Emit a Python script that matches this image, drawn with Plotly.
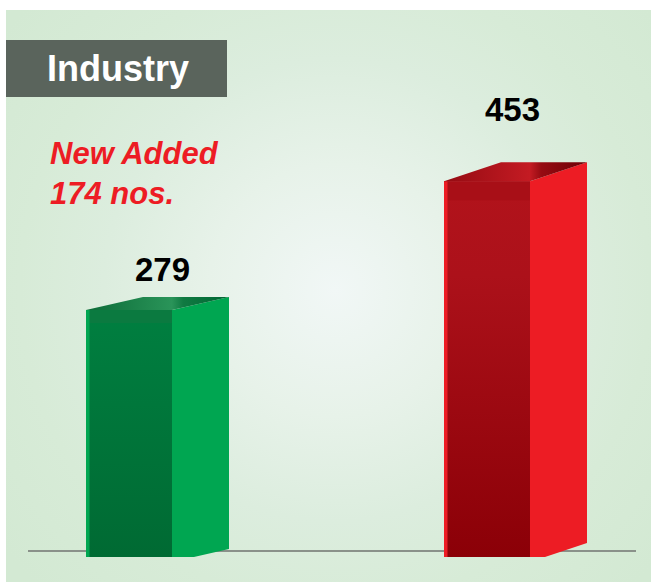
import base64
import plotly.graph_objects as go

# ---------------- data ----------------
categories = ["Before", "After"]
values = [279, 453]
value_labels = ["279", "453"]
title_text = "Industry"
note_lines = ["New Added", "174 nos."]

# ---------------- styles / geometry ----------------
W, H = 651, 582
FONT = "Liberation Sans, Arial, Helvetica, sans-serif"

X_STEP_PX = 358.0      # pixels between category centres
X_FIRST_PX = 129.0     # pixel x of first category centre
Y_PX = 0.741           # pixels per value unit
Y_ZERO_PX = 516.8      # pixel y of value 0

FRONT_W_PX = 86.0
DEPTH_DX_PX = 57.0
DEPTH_DY_PX = [13.0, 19.0]
CLIP_PX = 557.0
BOTTOM_PX = 562.0
STRIP_PX = 3.5
LABEL_RISE_PX = [28, 53]
LABEL_SHIFT_PX = [5, -3]

side_colors = ["#00a651", "#ed1c24"]
strip_colors = ["#00a651", "#ed1c24"]
front_scales = [
    [[0, "#006a33"], [1, "#007f40"]],
    [[0, "#8b0007"], [0.75, "#ac111a"], [1, "#b2131b"]],
]
band_colors = ["#0b7a40", "#a80f17"]
top_scales = [
    [[0, "#0b6b37"], [0.6, "#2a9459"], [0.68, "#107a42"], [1, "#006733"]],
    [[0, "#940b12"], [0.6, "#c41b23"], [0.68, "#960b12"], [1, "#6c0005"]],
]

X0 = -X_FIRST_PX / X_STEP_PX
X1 = X0 + W / X_STEP_PX
Y_TOP = Y_ZERO_PX / Y_PX
Y_BOT = (Y_ZERO_PX - H) / Y_PX

half = FRONT_W_PX / 2 / X_STEP_PX
DX = DEPTH_DX_PX / X_STEP_PX
CLIP = (Y_ZERO_PX - CLIP_PX) / Y_PX
BOT = (Y_ZERO_PX - BOTTOM_PX) / Y_PX
STRIP = STRIP_PX / X_STEP_PX

fig = go.Figure()


def poly(xs, ys, **kw):
    fig.add_trace(go.Scatter(
        x=xs + [xs[0]], y=ys + [ys[0]], mode="lines", fill="toself",
        line=dict(width=0), hoverinfo="skip", showlegend=False, **kw))


for i, v in enumerate(values):
    xl, xr = i - half, i + half
    dy = DEPTH_DY_PX[i] / Y_PX
    # side face (clipped at the bottom)
    xc = xr + DX * (CLIP - BOT) / dy
    poly([xr, xr, xr + DX, xr + DX, xc], [CLIP, v, v + dy, BOT + dy, CLIP],
         fillcolor=side_colors[i])
    # front face
    poly([xl, xr, xr, xl], [CLIP, CLIP, v, v],
         fillgradient=dict(type="vertical", colorscale=front_scales[i],
                           start=CLIP, stop=v))
    # top band on front face
    poly([xl, xr, xr, xl], [v - dy, v - dy, v, v], fillcolor=band_colors[i])
    # left light edge
    poly([xl, xl + STRIP, xl + STRIP, xl], [CLIP, CLIP, v, v],
         fillcolor=strip_colors[i])
    # top face
    poly([xl, xr, xr + DX, xl + DX], [v, v, v + dy, v + dy],
         fillgradient=dict(type="horizontal", colorscale=top_scales[i],
                           start=xl, stop=xr + DX))
    # value label
    fig.add_annotation(x=i + DX / 2, y=v + dy, yshift=LABEL_RISE_PX[i],
                       xshift=LABEL_SHIFT_PX[i],
                       text="<b>" + value_labels[i] + "</b>", showarrow=False,
                       xanchor="center", yanchor="middle",
                       font=dict(family=FONT, size=33, color="#000000"))

# background radial gradient
svg = (
    '<svg xmlns="http://www.w3.org/2000/svg" width="645" height="572" viewBox="0 0 645 572">'
    '<defs><radialGradient id="g" gradientUnits="userSpaceOnUse" cx="329" cy="280" r="420">'
    '<stop offset="0" stop-color="#f1f7f6"/>'
    '<stop offset="0.3" stop-color="#e7f2e9"/>'
    '<stop offset="0.55" stop-color="#dcedde"/>'
    '<stop offset="0.75" stop-color="#d7ebd7"/>'
    '<stop offset="1" stop-color="#d3e9d3"/>'
    '</radialGradient></defs>'
    '<rect width="645" height="572" fill="url(#g)"/></svg>'
)
src = "data:image/svg+xml;base64," + base64.b64encode(svg.encode()).decode()
fig.add_layout_image(source=src, xref="paper", yref="paper",
                     x=6 / W, y=1 - 10 / H, sizex=645 / W, sizey=572 / H,
                     xanchor="left", yanchor="top", sizing="stretch", layer="below")

# baseline
fig.add_shape(type="line", xref="paper", yref="paper",
              x0=28 / W, x1=636 / W, y0=1 - 551 / H, y1=1 - 551 / H,
              line=dict(color="#8a918a", width=2), layer="below")

# title box
fig.add_shape(type="rect", xref="paper", yref="paper",
              x0=6 / W, x1=227 / W, y0=1 - 97 / H, y1=1 - 40 / H,
              fillcolor="#5a645c", line=dict(width=0), layer="below")
fig.add_annotation(xref="paper", yref="paper", x=118 / W, y=1 - 68 / H,
                   text="<b>" + title_text + "</b>", showarrow=False,
                   xanchor="center", yanchor="middle",
                   font=dict(family=FONT, size=36, color="#ffffff"))

# note text
fig.add_annotation(xref="paper", yref="paper", x=48 / W, y=1 - 173 / H,
                   text="<b><i>" + "<br>".join(note_lines) + "</i></b>",
                   showarrow=False, xanchor="left", yanchor="middle", align="left",
                   font=dict(family=FONT, size=31, color="#ed1c24"))

fig.update_layout(
    width=W, height=H, margin=dict(l=0, r=0, t=0, b=0),
    paper_bgcolor="#ffffff", plot_bgcolor="rgba(0,0,0,0)",
    xaxis=dict(range=[X0, X1], visible=False, fixedrange=True),
    yaxis=dict(range=[Y_BOT, Y_TOP], visible=False, fixedrange=True),
    showlegend=False,
)

fig.write_html("out.html", config={"displayModeBar": False},
               post_script="document.body.style.margin='0';")
